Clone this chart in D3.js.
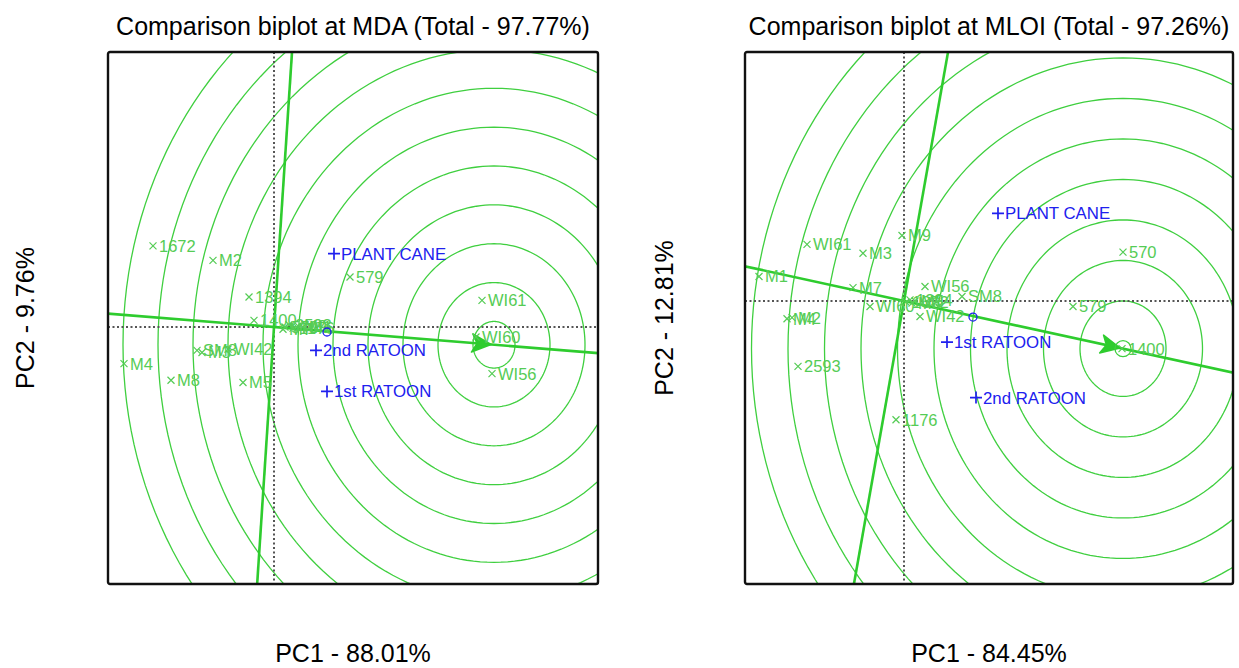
<!DOCTYPE html>
<html>
<head>
<meta charset="utf-8">
<script src="https://cdn.jsdelivr.net/npm/d3@7"></script>
<style>
body { margin: 0; background: #fff; }
text { font-family: "Liberation Sans", Arial, sans-serif; }
</style>
</head>
<body>
<script>
var width = 1239,
	height = 668;

// MDA panel (left)
var mdaGenotypes = ["1672", "M2", "1394", "1400", "579", "WI61", "WI60", "WI56", "M4", "M8", "M5", "SM8", "M3", "WI42", "570", "2593", "1176", "M9", "M7", "M1"];
var mdaGenoPC1 = [-12.1, -6.1, -2.5, -2.0, 7.6, 20.8, 20.2, 21.8, -15.0, -10.3, -3.1, -7.7, -7.2, -4.6, 1.1, 1.5, 1.9, 2.4, 0.9, 2.9];
var mdaGenoPC2 = [7.3, 6.0, 2.7, 0.6, 4.5, 2.4, -0.9, -4.2, -3.3, -4.8, -5.0, -2.1, -2.3, -2.0, 0.0, 0.2, -0.1, 0.1, -0.2, 0.0];
var mdaEnvs = ["PLANT CANE", "2nd RATOON", "1st RATOON"];
var mdaEnvPC1 = [6.0, 4.2, 5.3];
var mdaEnvPC2 = [6.6, -2.1, -5.8];
var mdaAvgEnv = [5.3, -0.45];
var mdaIdeal = [22.0, -1.6];

// MLOI panel (right)
var mloiGenotypes = ["WI61", "M3", "M9", "M1", "M7", "M4", "M2", "WI60", "2593", "1176", "WI56", "SM8", "WI42", "570", "579", "1400", "1672", "1394", "M8", "M5"];
var mloiGenoPC1 = [-9.7, -4.1, -0.2, -14.5, -5.1, -11.7, -11.2, -3.4, -10.6, -0.8, 2.1, 5.8, 1.6, 21.9, 16.9, 21.8, 0.2, 0.6, 0.8, 1.1];
var mloiGenoPC2 = [5.1, 4.3, 5.9, 2.2, 1.2, -1.6, -1.5, -0.5, -5.9, -10.7, 1.3, 0.4, -1.4, 4.4, -0.5, -4.3, -0.1, 0.1, -0.2, 0.0];
var mloiEnvs = ["PLANT CANE", "1st RATOON", "2nd RATOON"];
var mloiEnvPC1 = [9.4, 4.3, 7.2];
var mloiEnvPC2 = [7.9, -3.7, -8.7];
var mloiAvgEnv = [6.9, -1.45];
var mloiIdeal = [21.9, -4.3];

var svg = d3.select("body").append("svg")
	.attr("width", width)
	.attr("height", height);

var green = "#2ecc2e",
	ringGreen = "#3fcf3f",
	labelGreen = "#55cc55",
	blue = "#2020ee";

function panel(p) {
	var w = p.w, h = 532;
	var x = d3.scaleLinear().domain(p.xDomain).range([0, w]);
	var y = d3.scaleLinear().domain(p.yDomain).range([h, 0]);

	var g = svg.append("g").attr("transform", "translate(" + p.left + ",52)");

	g.append("clipPath").attr("id", p.id + "clip")
		.append("rect").attr("width", w).attr("height", h);

	var plot = g.append("g").attr("clip-path", "url(#" + p.id + "clip)");

	// concentric rings round the ideal genotype
	var line = d3.line().x(function(d){ return x(d[0]); }).y(function(d){ return y(d[1]); });
	var angles = d3.range(0, 2 * Math.PI + 0.01, Math.PI / 90);
	plot.selectAll(".ring").data(p.radii).enter().append("path")
		.attr("class", "ring")
		.attr("d", function(r){
			return line(angles.map(function(t){ return [p.ideal[0] + r * Math.cos(t), p.ideal[1] + r * Math.sin(t)]; }));
		})
		.attr("fill", "none")
		.attr("stroke", ringGreen)
		.attr("stroke-width", 1.3);

	// dotted axes through origin
	plot.append("line")
		.attr("x1", 0).attr("x2", w).attr("y1", y(0)).attr("y2", y(0))
		.attr("stroke", "#555").attr("stroke-width", 2).attr("stroke-dasharray", "2,2.5");
	plot.append("line")
		.attr("x1", x(0)).attr("x2", x(0)).attr("y1", 0).attr("y2", h)
		.attr("stroke", "#555").attr("stroke-width", 2).attr("stroke-dasharray", "2,2.5");

	// average environment axis and its perpendicular
	var len = Math.sqrt(p.ideal[0] * p.ideal[0] + p.ideal[1] * p.ideal[1]);
	var ux = p.ideal[0] / len, uy = p.ideal[1] / len, L = 100;
	plot.append("line")
		.attr("x1", x(-L * ux)).attr("y1", y(-L * uy))
		.attr("x2", x(L * ux)).attr("y2", y(L * uy))
		.attr("stroke", green).attr("stroke-width", 2.6);
	plot.append("line")
		.attr("x1", x(L * uy)).attr("y1", y(-L * ux))
		.attr("x2", x(-L * uy)).attr("y2", y(L * ux))
		.attr("stroke", green).attr("stroke-width", 2.6);

	// arrow head at the ideal point
	var tx = x(p.ideal[0]), ty = y(p.ideal[1]);
	var ang = Math.atan2(ty - y(0), tx - x(0));
	var bx = tx - 3 * Math.cos(ang), by = ty - 3 * Math.sin(ang);
	plot.append("path")
		.attr("d", "M" + (bx - 21 * Math.cos(ang + 0.45)) + "," + (by - 21 * Math.sin(ang + 0.45)) +
			"L" + bx + "," + by +
			"L" + (bx - 21 * Math.cos(ang - 0.45)) + "," + (by - 21 * Math.sin(ang - 0.45)) +
			"L" + (bx - 14 * Math.cos(ang)) + "," + (by - 14 * Math.sin(ang)) + "Z")
		.attr("fill", green).attr("stroke", green).attr("stroke-width", 1.5)
		.attr("stroke-linejoin", "round");
	if (p.idealMark) {
		plot.append("circle").attr("cx", tx).attr("cy", ty).attr("r", 8)
			.attr("fill", "none").attr("stroke", ringGreen).attr("stroke-width", 1.3);
	}

	// genotypes
	var geno = plot.selectAll(".geno").data(p.genotypes).enter().append("g")
		.attr("class", "geno")
		.attr("transform", function(d, i){ return "translate(" + x(p.gx[i]) + "," + y(p.gy[i]) + ")"; });
	geno.append("path").attr("d", "M-3.5,-3.5L3.5,3.5M-3.5,3.5L3.5,-3.5")
		.attr("stroke", labelGreen).attr("stroke-width", 1.2);
	geno.append("text").attr("x", 6).attr("dy", "0.36em")
		.attr("font-size", 16.5).attr("fill", labelGreen)
		.text(function(d){ return d; });

	// environments
	var env = plot.selectAll(".env").data(p.envs).enter().append("g")
		.attr("class", "env")
		.attr("transform", function(d, i){ return "translate(" + x(p.ex[i]) + "," + y(p.ey[i]) + ")"; });
	env.append("path").attr("d", "M-6,0L6,0M0,-6L0,6")
		.attr("stroke", blue).attr("stroke-width", 1.7);
	env.append("text").attr("x", 7).attr("dy", "0.36em")
		.attr("font-size", 16.8).attr("fill", blue)
		.text(function(d){ return d; });

	plot.append("circle")
		.attr("cx", x(p.avg[0])).attr("cy", y(p.avg[1])).attr("r", 4)
		.attr("fill", "none").attr("stroke", blue).attr("stroke-width", 1.3);

	g.append("rect").attr("width", w).attr("height", h)
		.attr("fill", "none").attr("stroke", "#111").attr("stroke-width", 2.4).attr("rx", 2);

	g.append("text").attr("x", w / 2).attr("y", -17)
		.attr("text-anchor", "middle").attr("font-size", 25)
		.text(p.title);
	g.append("text").attr("x", w / 2).attr("y", 610)
		.attr("text-anchor", "middle").attr("font-size", 25)
		.text(p.xLabel);
	g.append("text")
		.attr("transform", "translate(" + p.yLabelX + "," + (h / 2) + ") rotate(-90)")
		.attr("text-anchor", "middle").attr("font-size", 25)
		.text(p.yLabel);
}

panel({
	id: "mda", left: 108, w: 490,
	xDomain: [-16.6, 32.4], yDomain: [-23.15, 24.77],
	genotypes: mdaGenotypes, gx: mdaGenoPC1, gy: mdaGenoPC2,
	envs: mdaEnvs, ex: mdaEnvPC1, ey: mdaEnvPC2,
	avg: mdaAvgEnv, ideal: mdaIdeal, idealMark: false,
	radii: d3.range(11).map(function(k){ return 2.1 + 3.5 * k; }),
	title: "Comparison biplot at MDA (Total - 97.77%)",
	xLabel: "PC1 - 88.01%", yLabel: "PC2 - 9.76%", yLabelX: -74
});

panel({
	id: "mloi", left: 745, w: 488,
	xDomain: [-15.9, 32.9], yDomain: [-25.5, 22.43],
	genotypes: mloiGenotypes, gx: mloiGenoPC1, gy: mloiGenoPC2,
	envs: mloiEnvs, ex: mloiEnvPC1, ey: mloiEnvPC2,
	avg: mloiAvgEnv, ideal: mloiIdeal, idealMark: true,
	radii: d3.range(10).map(function(k){ return 4.3 + 3.65 * k; }),
	title: "Comparison biplot at MLOI (Total - 97.26%)",
	xLabel: "PC1 - 84.45%", yLabel: "PC2 - 12.81%", yLabelX: -72
});
</script>
</body>
</html>
